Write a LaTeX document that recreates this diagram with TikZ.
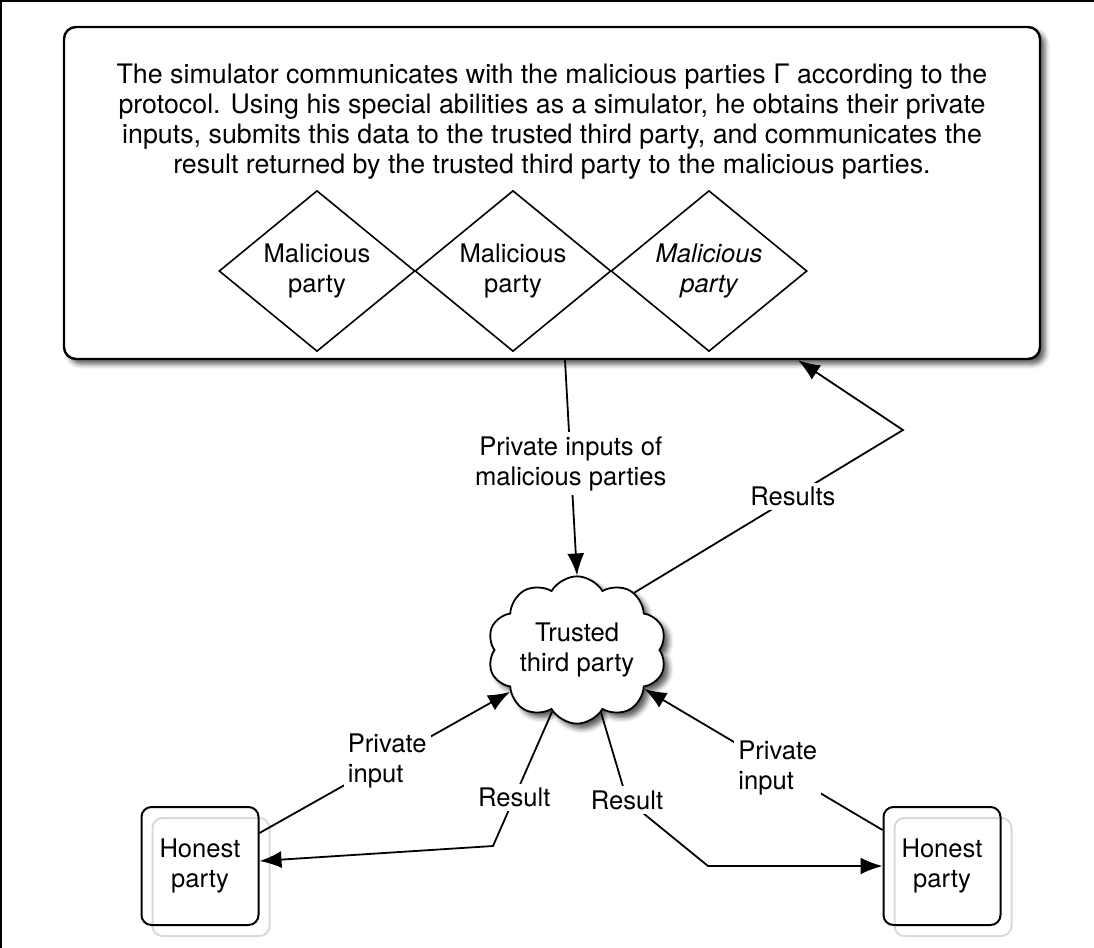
\documentclass[tikz,border=0pt]{standalone}
\usepackage{fontspec}
\setmainfont{TeX Gyre Heros}
\usetikzlibrary{calc,positioning,shapes.geometric,shapes.symbols,shadows,shadows.blur,arrows.meta}

\begin{document}
\begin{tikzpicture}[x=0.5pt, y=-0.5pt,
    every node/.style={font=\fontsize{12.8}{15}\selectfont},
    flow/.style={-{Latex[length=11pt,width=8.5pt]}, line width=0.9pt},
    lbl/.style={fill=white, inner sep=2pt},
    party/.style={diamond, draw, line width=0.8pt, minimum width=98pt, minimum height=66pt, inner sep=0pt, align=center},
    honest/.style={draw, rounded corners=5pt, line width=1pt, minimum width=58.5pt, minimum height=59pt, align=center,
        preaction={draw=black!15, transform canvas={shift={(5.5pt,-5.5pt)}}}},
    softshadow/.style={blur shadow={shadow xshift=2.5pt, shadow yshift=-2.5pt, shadow blur radius=2.5pt, shadow opacity=65}}]
  \useasboundingbox (0,0) rectangle (1094,948);
  \draw[line width=0.75pt] (0.75,948) -- (0.75,0.75) -- (1094,0.75);
  \node[draw, fill=white, rounded corners=6pt, line width=1.2pt, minimum width=488pt, minimum height=166pt, softshadow] (sim) at (552,193) {};
  \node[align=center, font=\fontsize{13.4}{15}\selectfont] (desc) at (552,122) {The simulator communicates with the malicious parties Γ according to the\\protocol. Using his special abilities as a simulator, he obtains their private\\inputs, submits this data to the trusted third party, and communicates the\\result returned by the trusted third party to the malicious parties.};
  \node[party] (mp1) at (317,271) {Malicious\\party};
  \node[party] (mp2) at (513,271) {Malicious\\party};
  \node[party, font=\fontsize{12.8}{15}\selectfont\itshape] (mp3) at (709,271) {Malicious\\party};
  \node[cloud, draw, fill=white, line width=0.9pt, cloud puffs=10, cloud puff arc=120, aspect=1.3,
        minimum width=89.5pt, minimum height=70pt, inner sep=0pt, align=center, softshadow] (ttp) at (577,650) {Trusted\\third party};
  \node[honest] (hl) at (200,866) {Honest\\party};
  \node[honest] (hr) at (942,866) {Honest\\party};
  \coordinate (rkink) at (903,430);
  \coordinate (lkink) at (493,846);
  \coordinate (rmid) at (627,800);
  \coordinate (rkink2) at (708,866);
  \draw[flow] ($(sim.south)+(13,0)$) -- node[lbl, align=center, pos=0.48] (lmal) {Private inputs of\\malicious parties} (ttp.north);
  \draw[flow] (ttp.45) -- node[lbl, pos=0.59] (lres) {Results} (rkink) -- ($(sim.south)+(246,0)$);
  \draw[flow] ($(hl.east)+(0,-33)$) -- node[lbl, align=left, pos=0.51] (lpl) {Private\\input} (ttp.212);
  \draw[flow] ($(hr.west)+(0,-36)$) -- node[lbl, align=left, pos=0.44] (lpr) {Private\\input} (ttp.330);
  \draw[flow] (ttp.248) -- node[lbl, pos=0.64] (lrl) {Result} (lkink) -- ($(hl.east)+(0,-5)$);
  \draw[flow] (ttp.291) -- (rmid) node[lbl] (lrr) {Result} -- (rkink2) -- (hr.west);
\end{tikzpicture}
\end{document}
